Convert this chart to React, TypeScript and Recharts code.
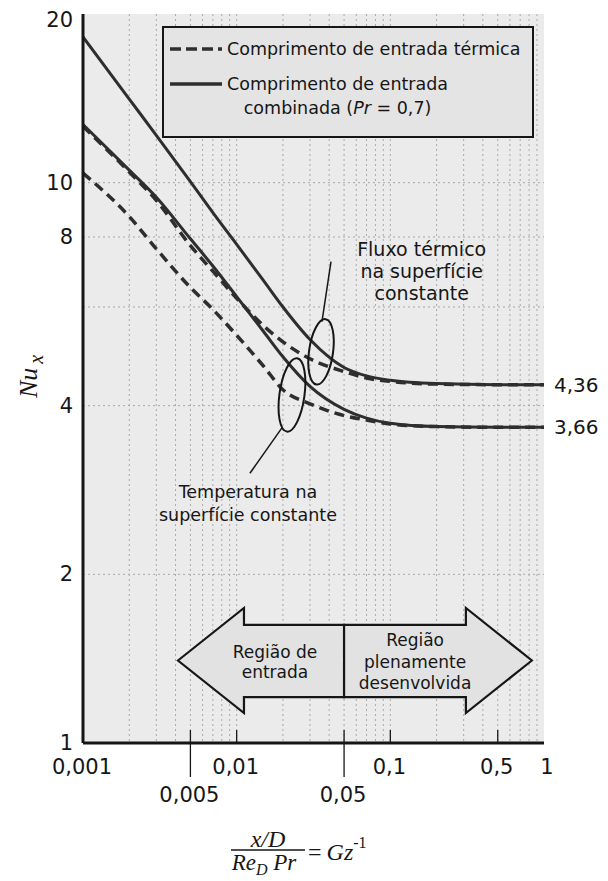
import {
  LineChart,
  Line,
  XAxis,
  YAxis,
  CartesianGrid,
  Legend,
  ReferenceArea,
  ReferenceDot,
  ReferenceLine,
  Label,
} from 'recharts'

// Gz^-1 = (x/D) / (Re_D Pr)
const gzInverse = [0.001, 0.002, 0.003, 0.005, 0.007, 0.01, 0.015, 0.02, 0.03, 0.05, 0.07, 0.1, 0.2, 0.5, 1]
// combined entry length (Pr = 0.7)
const nuCombinedFlux = [18.2, 14.1, 12.15, 10.04, 8.84, 7.76, 6.68, 6.0, 5.25, 4.68, 4.52, 4.44, 4.38, 4.36, 4.36]
const nuCombinedTemp = [12.7, 10.53, 9.42, 7.94, 7.1, 6.26, 5.42, 4.89, 4.33, 3.94, 3.8, 3.72, 3.67, 3.66, 3.66]
// thermal entry length
const nuThermalFlux = [12.6, 10.45, 9.3, 7.72, 6.95, 6.22, 5.55, 5.2, 4.85, 4.6, 4.48, 4.42, 4.37, 4.36, 4.36]
const nuThermalTemp = [10.4, 8.7, 7.62, 6.5, 5.94, 5.34, 4.7, 4.27, 4.03, 3.84, 3.77, 3.71, 3.67, 3.66, 3.66]

const xTicks = [0.001, 0.005, 0.01, 0.05, 0.1, 0.5, 1]
const xTickLabels = ['0,001', '0,005', '0,01', '0,05', '0,1', '0,5', '1']
const lowXTicks = [0.005, 0.05]
const yTicks = [1, 2, 4, 8, 10, 20]
const gridX = [
  0.002, 0.003, 0.004, 0.005, 0.006, 0.007, 0.008, 0.009, 0.01,
  0.02, 0.03, 0.04, 0.05, 0.06, 0.07, 0.08, 0.09, 0.1,
  0.2, 0.3, 0.4, 0.5, 0.6, 0.7, 0.8, 0.9,
]
const gridY = [2, 4, 6, 8, 10]
const limits = [4.36, 3.66]
const limitLabels = ['4,36', '3,66']

const data = gzInverse.map((x, i) => ({
  x,
  combinedFlux: nuCombinedFlux[i],
  combinedTemp: nuCombinedTemp[i],
  thermalFlux: nuThermalFlux[i],
  thermalTemp: nuThermalTemp[i],
}))

const SANS = '"DejaVu Sans", sans-serif'
const SERIF = '"Liberation Serif", "Times New Roman", serif'
const INK = '#161616'
const CURVE = '#2e2e2e'

function XTick({ x, y, payload }: any) {
  const v = payload.value
  const low = lowXTicks.includes(v)
  const edge = v === 0.001 || v === 1
  const label = xTickLabels[xTicks.indexOf(v)]
  return (
    <g>
      {!edge && (
        <line x1={x} x2={x} y1={y - 13} y2={low ? y + 34 : y} stroke={INK} strokeWidth={1.3} />
      )}
      <text
        x={v === 1 ? x + 3 : x - 1}
        y={low ? y + 52 : y + 24}
        textAnchor="middle"
        dominantBaseline="central"
        fontFamily={SANS}
        fontSize={21}
        fill={INK}
      >
        {label}
      </text>
    </g>
  )
}

function YTick({ x, y, payload }: any) {
  const top = payload.value === 20
  return (
    <text
      x={x - 10}
      y={top ? y + 6 : y}
      textAnchor="end"
      dominantBaseline="central"
      fontFamily={SANS}
      fontSize={21}
      fill={INK}
    >
      {payload.value}
    </text>
  )
}

function NuLabel({ viewBox }: any) {
  const bx = viewBox.x - 6
  const cy = viewBox.y + viewBox.height / 2 - 2
  return (
    <text
      transform={`translate(${bx}, ${cy}) rotate(-90)`}
      textAnchor="middle"
      fontFamily={SERIF}
      fontStyle="italic"
      fontSize={26}
      fill={INK}
    >
      Nu
      <tspan dx={4} dy={6} fontSize={20}>x</tspan>
    </text>
  )
}

function GzLabel({ viewBox }: any) {
  const cx = viewBox.x + 185
  const y0 = viewBox.y
  return (
    <g fontFamily={SERIF} fill={INK}>
      <text x={cx} y={y0 + 104} textAnchor="middle" fontStyle="italic" fontSize={24}>x/D</text>
      <line x1={cx - 37} x2={cx + 37} y1={y0 + 107} y2={y0 + 107} stroke={INK} strokeWidth={1.3} />
      <text x={cx - 4} y={y0 + 127} textAnchor="middle" fontStyle="italic" fontSize={23}>
        Re<tspan dy={5} fontSize={16}>D</tspan>
        <tspan dy={-5}> Pr</tspan>
      </text>
      <text x={cx + 40} y={y0 + 117} fontSize={24}>
        =<tspan dx={5} fontStyle="italic">Gz</tspan>
        <tspan dy={-12} fontSize={16}>-1</tspan>
      </text>
    </g>
  )
}

function LegendBox({ payload }: any) {
  const items = payload || []
  const sample = (dash?: string) => (
    <svg width={52} height={8} style={{ display: 'block' }}>
      <line x1={0} x2={52} y1={4} y2={4} stroke={CURVE} strokeWidth={3.5} strokeDasharray={dash} />
    </svg>
  )
  const thermal = items.find((p: any) => p.dataKey === 'thermalFlux')
  const combined = items.find((p: any) => p.dataKey === 'combinedFlux')
  return (
    <div
      style={{
        position: 'relative',
        boxSizing: 'border-box',
        width: 372,
        height: 112,
        border: `2.5px solid ${INK}`,
        background: '#e4e4e4',
        fontFamily: SANS,
        fontSize: 17.5,
        color: INK,
      }}
    >
      {thermal && (
        <div style={{ position: 'absolute', left: 6, top: 9, height: 24, display: 'flex', alignItems: 'center' }}>
          {sample('11 5')}
          <span style={{ marginLeft: 5, whiteSpace: 'nowrap' }}>{thermal.value}</span>
        </div>
      )}
      {combined && (
        <>
          <div style={{ position: 'absolute', left: 6, top: 52 }}>{sample()}</div>
          <div
            style={{
              position: 'absolute',
              left: 63,
              top: 44,
              lineHeight: '24px',
              textAlign: 'center',
              whiteSpace: 'nowrap',
            }}
          >
            Comprimento de entrada
            <br />
            combinada (<i>Pr</i> = 0,7)
          </div>
        </>
      )}
    </div>
  )
}

function RegionArrow({ x, y, width, height, dir, lines, textX, lineYs }: any) {
  const head = 66
  const top = y + 17
  const bottom = y + height - 16
  const mid = y + height / 2
  let pts: number[][]
  if (dir === 'left') {
    pts = [
      [x, mid], [x + head, y], [x + head, top], [x + width, top],
      [x + width, bottom], [x + head, bottom], [x + head, y + height],
    ]
  } else {
    const tip = x + width
    pts = [
      [tip, mid], [tip - head, y + height], [tip - head, bottom], [x, bottom],
      [x, top], [tip - head, top], [tip - head, y],
    ]
  }
  return (
    <g>
      <polygon
        points={pts.map((p) => p.join(',')).join(' ')}
        fill="#e2e2e2"
        stroke={INK}
        strokeWidth={2.2}
        strokeLinejoin="miter"
      />
      {lines.map((t: string, i: number) => (
        <text
          key={t}
          x={x + textX}
          y={y + lineYs[i]}
          textAnchor="middle"
          dominantBaseline="central"
          fontFamily={SANS}
          fontSize={17}
          fill={INK}
        >
          {t}
        </text>
      ))}
    </g>
  )
}

function TextBlock({ cx, cy, lines, size, gap }: any) {
  const start = cy - ((lines.length - 1) * gap) / 2
  return (
    <g>
      {lines.map((t: string, i: number) => (
        <text
          key={t}
          x={cx}
          y={start + i * gap}
          textAnchor="middle"
          dominantBaseline="central"
          fontFamily={SANS}
          fontSize={size}
          fill={INK}
        >
          {t}
        </text>
      ))}
    </g>
  )
}

const frame = { stroke: INK, strokeWidth: 3 }

export default function App() {
  return (
    <div style={{ width: 600, height: 873 }}>
      <LineChart
        width={600}
        height={873}
        data={data}
        margin={{ top: 6, right: 64, bottom: 108, left: 35 }}
        style={{ overflow: 'visible' }}
      >
        <CartesianGrid
          verticalValues={gridX}
          horizontalValues={gridY}
          stroke="#a9a9a9"
          strokeDasharray="2 3"
          fill="#ebebeb"
        />
        <XAxis
          dataKey="x"
          type="number"
          scale="log"
          domain={[0.001, 1]}
          allowDataOverflow
          ticks={xTicks}
          interval={0}
          tickSize={0}
          tickMargin={0}
          tickLine={false}
          axisLine={frame}
          height={30}
          tick={<XTick />}
        >
          <Label content={<GzLabel />} />
        </XAxis>
        <XAxis
          xAxisId="top"
          orientation="top"
          type="number"
          scale="log"
          domain={[0.001, 1]}
          allowDataOverflow
          height={0}
          tick={false}
          tickLine={false}
          axisLine={frame}
        />
        <YAxis
          type="number"
          scale="log"
          domain={[1, 20]}
          allowDataOverflow
          ticks={yTicks}
          interval={0}
          tickSize={0}
          tickMargin={0}
          tickLine={false}
          axisLine={frame}
          width={40}
          tick={<YTick />}
        >
          <Label content={<NuLabel />} />
        </YAxis>
        <YAxis
          yAxisId="right"
          orientation="right"
          type="number"
          scale="log"
          domain={[1, 20]}
          allowDataOverflow
          width={0}
          tick={false}
          tickLine={false}
          axisLine={frame}
        />
        <Legend
          layout="vertical"
          align="center"
          verticalAlign="middle"
          wrapperStyle={{ left: 154, top: 18, width: 372, height: 112 }}
          content={<LegendBox />}
        />

        <ReferenceArea
          x1={0.00415}
          x2={0.05}
          y1={1.131}
          y2={1.742}
          ifOverflow="visible"
          shape={(p: any) => (
            <RegionArrow {...p} dir="left" lines={['Região de', 'entrada']} textX={97} lineYs={[44, 64]} />
          )}
        />
        <ReferenceArea
          x1={0.05}
          x2={0.834}
          y1={1.131}
          y2={1.742}
          ifOverflow="visible"
          shape={(p: any) => (
            <RegionArrow
              {...p}
              dir="right"
              lines={['Região', 'plenamente', 'desenvolvida']}
              textX={71}
              lineYs={[32, 54, 75]}
            />
          )}
        />

        <Line
          dataKey="thermalFlux"
          name="Comprimento de entrada térmica"
          type="monotone"
          stroke={CURVE}
          strokeWidth={3.5}
          strokeDasharray="10 6"
          dot={false}
          isAnimationActive={false}
        />
        <Line
          dataKey="thermalTemp"
          legendType="none"
          type="monotone"
          stroke={CURVE}
          strokeWidth={3.5}
          strokeDasharray="10 6"
          dot={false}
          isAnimationActive={false}
        />
        <Line
          dataKey="combinedFlux"
          name="Comprimento de entrada combinada (Pr = 0,7)"
          type="monotone"
          stroke={CURVE}
          strokeWidth={3}
          dot={false}
          isAnimationActive={false}
        />
        <Line
          dataKey="combinedTemp"
          legendType="none"
          type="monotone"
          stroke={CURVE}
          strokeWidth={3}
          dot={false}
          isAnimationActive={false}
        />

        {/* ellipses grouping the curve pairs */}
        <ReferenceDot
          x={0.0354}
          y={4.99}
          r={1}
          shape={(p: any) => (
            <ellipse cx={p.cx} cy={p.cy} rx={12} ry={33} fill="none" stroke={INK} strokeWidth={2}
              transform={`rotate(8 ${p.cx} ${p.cy})`} />
          )}
        />
        <ReferenceDot
          x={0.0229}
          y={4.18}
          r={1}
          shape={(p: any) => (
            <ellipse cx={p.cx} cy={p.cy} rx={12.5} ry={37} fill="none" stroke={INK} strokeWidth={2}
              transform={`rotate(8 ${p.cx} ${p.cy})`} />
          )}
        />
        <ReferenceLine segment={[{ x: 0.0411, y: 7.23 }, { x: 0.0359, y: 5.65 }]} stroke={INK} strokeWidth={1.5} />
        <ReferenceLine segment={[{ x: 0.0197, y: 3.65 }, { x: 0.0122, y: 3.03 }]} stroke={INK} strokeWidth={1.5} />

        <ReferenceDot
          x={0.16}
          y={6.96}
          r={1}
          shape={(p: any) => (
            <TextBlock cx={p.cx} cy={p.cy} size={19} gap={22}
              lines={['Fluxo térmico', 'na superfície', 'constante']} />
          )}
        />
        <ReferenceDot
          x={0.01184}
          y={2.678}
          r={1}
          shape={(p: any) => (
            <TextBlock cx={p.cx} cy={p.cy} size={17.5} gap={23}
              lines={['Temperatura na', 'superfície constante']} />
          )}
        />

        {limits.map((v, i) => (
          <ReferenceDot
            key={v}
            x={1}
            y={v}
            r={1}
            ifOverflow="visible"
            shape={(p: any) => (
              <text x={p.cx + 10} y={p.cy} dominantBaseline="central" fontFamily={SANS} fontSize={20} fill={INK}>
                {limitLabels[i]}
              </text>
            )}
          />
        ))}
      </LineChart>
    </div>
  )
}
